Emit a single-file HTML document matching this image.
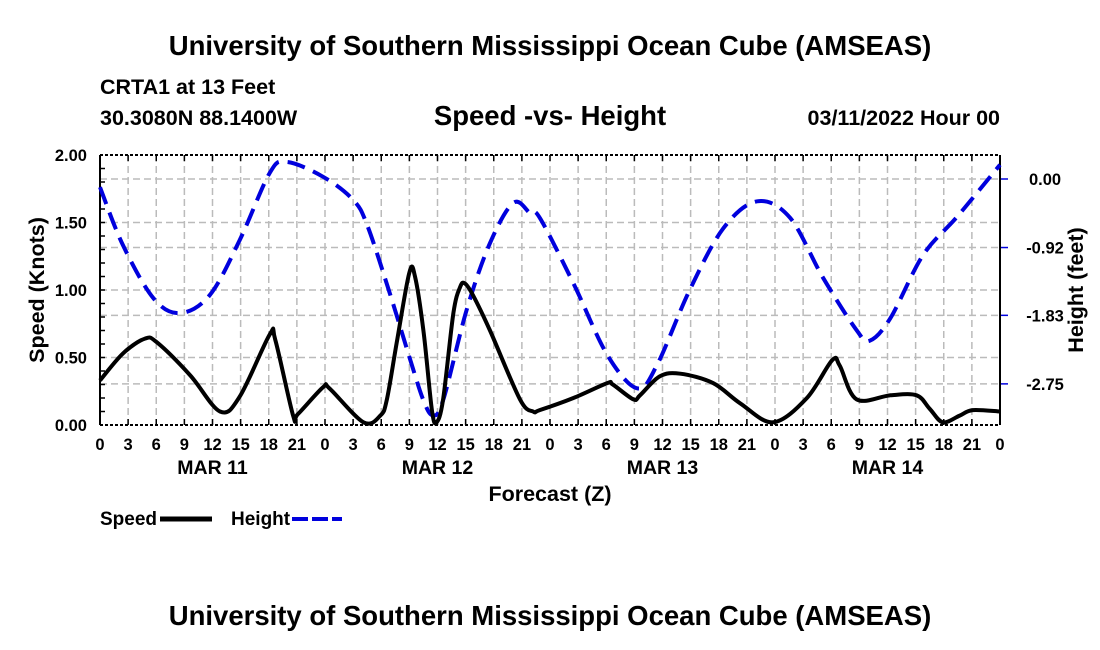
<!DOCTYPE html>
<html><head><meta charset="utf-8"><style>
html,body{margin:0;padding:0;background:#fff;}
svg{display:block;font-family:"Liberation Sans",Arial,sans-serif;}
</style></head><body>
<svg id="chart" width="1100" height="650" viewBox="0 0 1100 650">
<text x="550" y="55" text-anchor="middle" font-size="27.5" font-weight="bold">University of Southern Mississippi Ocean Cube (AMSEAS)</text>
<text x="100" y="94" font-size="21.5" font-weight="bold">CRTA1 at 13 Feet</text>
<text x="100" y="125" font-size="21.5" font-weight="bold">30.3080N  88.1400W</text>
<text x="550" y="125" text-anchor="middle" font-size="27.5" font-weight="bold">Speed -vs- Height</text>
<text x="1000" y="125" text-anchor="end" font-size="21.5" font-weight="bold">03/11/2022 Hour 00</text>
<g id="grid"></g>
<g id="axes"></g>
<g id="series"></g>
<text x="550" y="501" text-anchor="middle" font-size="21.5" font-weight="bold">Forecast (Z)</text>
<text transform="translate(44,290) rotate(-90)" text-anchor="middle" font-size="21.5" font-weight="bold">Speed (Knots)</text>
<text transform="translate(1083,290) rotate(-90)" text-anchor="middle" font-size="21.5" font-weight="bold">Height (feet)</text>
<g>
<text x="100" y="525" font-size="19" font-weight="bold">Speed</text>
<line x1="160" y1="519" x2="212" y2="519" stroke="#000" stroke-width="5"/>
<text x="231" y="525" font-size="19" font-weight="bold">Height</text>
<line x1="292" y1="519" x2="342" y2="519" stroke="#0000dd" stroke-width="4" stroke-dasharray="16,4"/>
</g>
<text x="550" y="625" text-anchor="middle" font-size="27.5" font-weight="bold">University of Southern Mississippi Ocean Cube (AMSEAS)</text>
</svg>
<script>
const speedHours=[0,2.45,4.8,6.1,9.6,12.8,14.9,18.1,18.7,20.6,21.1,23.8,24.5,28.1,29.9,30.6,31.7,33,33.6,34.5,35.4,35.9,36.6,37.7,38.4,38.9,39.8,41.6,44.8,46.2,46.9,50.5,54.1,54.7,56.9,57.6,59.7,61.9,65.4,68.3,71.8,75.4,78.1,78.9,80.7,84.3,87.1,88.5,89.9,91.7,93.1,96];
const speedValues=[0.33,0.53,0.64,0.61,0.37,0.10,0.21,0.67,0.63,0.07,0.08,0.28,0.27,0.02,0.07,0.19,0.63,1.13,1.10,0.70,0.11,0.02,0.19,0.83,1.02,1.05,0.96,0.70,0.19,0.10,0.11,0.20,0.31,0.30,0.19,0.22,0.36,0.38,0.31,0.16,0.02,0.20,0.48,0.44,0.19,0.22,0.22,0.12,0.02,0.07,0.11,0.10];
const heightHours=[0,2.45,5.7,8.5,11.7,14.9,18.1,19.9,23.8,27,28.5,30.9,33.1,34.5,35.5,36.6,39.1,41.6,44.1,45.9,46.9,50.5,54.1,57.3,59.4,62.9,66.5,70.1,73.6,77.1,80.7,82.1,84.3,87.8,91.4,96];
const heightValues=[-0.11,-0.89,-1.60,-1.80,-1.56,-0.82,0.08,0.23,0.03,-0.28,-0.62,-1.53,-2.43,-2.97,-3.17,-2.97,-1.76,-0.86,-0.32,-0.46,-0.52,-1.40,-2.36,-2.81,-2.50,-1.49,-0.66,-0.30,-0.52,-1.32,-2.03,-2.17,-1.87,-1.02,-0.51,0.19];
const speedTicks=["0.00","0.50","1.00","1.50","2.00"];
const heightTicks=["0.00","-0.92","-1.83","-2.75"];
const hourTickLabels=["0","3","6","9","12","15","18","21","0","3","6","9","12","15","18","21","0","3","6","9","12","15","18","21","0","3","6","9","12","15","18","21","0"];
const dayLabels=["MAR 11","MAR 12","MAR 13","MAR 14"];

const X0=100,X1=1000,Y0=425,Y1=155;
const xs=h=>X0+(h/96)*(X1-X0);
const ys=v=>Y0-(v/2)*(Y0-Y1);
const yh=f=>179-f*74.5;
const NS="http://www.w3.org/2000/svg";
function mk(tag,attrs,parent,text){const e=document.createElementNS(NS,tag);for(const k in attrs)e.setAttribute(k,attrs[k]);if(text!==undefined)e.textContent=text;parent.appendChild(e);return e;}
const grid=document.getElementById('grid'),axes=document.getElementById('axes'),series=document.getElementById('series');

hourTickLabels.forEach((lab,i)=>{
  const x=xs(i*3);
  if(i>0&&i<32){const l=mk('line',{x1:x,y1:Y1,x2:x,y2:Y0,stroke:'#bbb','stroke-width':1.5,'stroke-dasharray':'7,4'},grid);
  
  }
  const t=mk('line',{x1:x,y1:Y0,x2:x,y2:Y0-6,stroke:'#000','stroke-width':1.5},axes);
  
  
  const t2=mk('line',{x1:x,y1:Y1,x2:x,y2:Y1+6,stroke:'#000','stroke-width':1.5},axes);
  
  
  const tx=mk('text',{x:x,y:450,'text-anchor':'middle','font-size':16.5,'font-weight':'bold'},axes,lab);
  
  
});
dayLabels.forEach((d,i)=>{
  const tx=mk('text',{x:xs(12+i*24),y:474,'text-anchor':'middle','font-size':19.5,'font-weight':'bold'},axes,d);
  
  
});
speedTicks.forEach((lab)=>{
  const v=parseFloat(lab),y=ys(v);
  if(v>0&&v<2){const l=mk('line',{x1:X0,y1:y,x2:X1,y2:y,stroke:'#bbb','stroke-width':1.5,'stroke-dasharray':'7,4'},grid);
  
  }
  const tx=mk('text',{x:87,y:y+6,'text-anchor':'end','font-size':16.5,'font-weight':'bold'},axes,lab);
  
  
});
for(let v=0.1;v<2;v+=0.1){const y=ys(v);const t=mk('line',{x1:X0,y1:y,x2:X0+5,y2:y,stroke:'#000','stroke-width':1.5},axes);
  
  }
heightTicks.forEach(lab=>{
  const y=yh(parseFloat(lab));
  const l=mk('line',{x1:X0,y1:y,x2:X1,y2:y,stroke:'#bbb','stroke-width':1.5,'stroke-dasharray':'7,4'},grid);
  
  
  const t=mk('line',{x1:X1,y1:y,x2:X1+8,y2:y,stroke:'#0000dd','stroke-width':1.5},axes);
  
  
  const tx=mk('text',{x:1045,y:y+6,'text-anchor':'middle','font-size':16.5,'font-weight':'bold'},axes,lab);
  
  
});
const frameL=mk('line',{x1:X0,y1:Y1,x2:X0,y2:Y0,stroke:'#000','stroke-width':2},axes);


const frameR=mk('line',{x1:X1,y1:Y1,x2:X1,y2:Y0,stroke:'#000','stroke-width':2},axes);


const frameB=mk('line',{x1:X0,y1:Y0,x2:X1,y2:Y0,stroke:'#000','stroke-width':2,'stroke-dasharray':'3,2'},axes);


const frameT=mk('line',{x1:X0,y1:Y1,x2:X1,y2:Y1,stroke:'#000','stroke-width':2,'stroke-dasharray':'3,2'},axes);



function smooth(pts){
  let d='M'+pts[0][0]+','+pts[0][1];
  for(let i=0;i<pts.length-1;i++){
    const p0=pts[i-1]||pts[i],p1=pts[i],p2=pts[i+1],p3=pts[i+2]||p2;
    const c1=[p1[0]+(p2[0]-p0[0])/6,p1[1]+(p2[1]-p0[1])/6];
    const c2=[p2[0]-(p3[0]-p1[0])/6,p2[1]-(p3[1]-p1[1])/6];
    d+=' C'+c1[0].toFixed(1)+','+c1[1].toFixed(1)+' '+c2[0].toFixed(1)+','+c2[1].toFixed(1)+' '+p2[0].toFixed(1)+','+p2[1].toFixed(1);
  }
  return d;
}
const hp=mk('path',{d:smooth(heightHours.map((h,i)=>[xs(h),yh(heightValues[i])])),fill:'none',stroke:'#0000dd','stroke-width':4,'stroke-dasharray':'18,9'},series);


const sp=mk('path',{d:smooth(speedHours.map((h,i)=>[xs(h),ys(speedValues[i])])),fill:'none',stroke:'#000','stroke-width':4,'stroke-linejoin':'round'},series);


</script>
</body></html>
